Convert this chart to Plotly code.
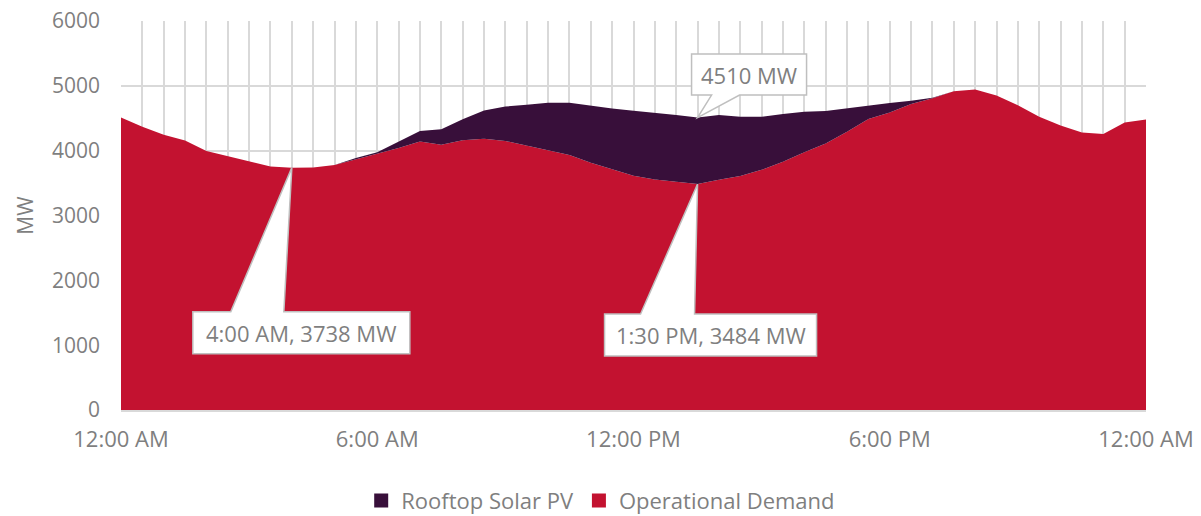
import pandas as pd
import plotly.graph_objects as go

# half-hourly intervals, midnight to midnight
times = pd.date_range("2019-01-01 00:00", "2019-01-02 00:00", freq="30min")

operational_demand = [
    4510, 4370, 4245, 4155, 3995, 3915, 3830, 3755, 3738, 3740,
    3780, 3865, 3945, 4040, 4140, 4090, 4160, 4185, 4150, 4080,
    4010, 3935, 3815, 3710, 3615, 3555, 3515, 3484, 3550, 3610,
    3705, 3830, 3975, 4110, 4290, 4490, 4590, 4720, 4810, 4915,
    4945, 4850, 4700, 4523, 4390, 4280, 4257, 4435, 4480,
]
rooftop_solar = [
    0, 0, 0, 0, 0, 0, 0, 0, 0, 0,
    0, 20, 30, 100, 165, 240, 325, 435, 530, 630,
    728, 803, 877, 940, 1000, 1030, 1034, 1026, 999, 913,
    818, 735, 625, 501, 362, 213, 145, 50, 5, 0,
    0, 0, 0, 0, 0, 0, 0, 0, 0,
]

RED = "#C31230"
PURPLE = "#380F3A"
GRID = "#D9D9D9"
TEXT = "#7F7F7F"
FONT = "Open Sans"

fig = go.Figure()
fig.add_trace(go.Scatter(x=times, y=operational_demand, name="Operational Demand",
                         stackgroup="one", mode="lines", line=dict(width=0, color=RED),
                         fillcolor=RED, showlegend=False))
fig.add_trace(go.Scatter(x=times, y=rooftop_solar, name="Rooftop Solar PV",
                         stackgroup="one", mode="lines", line=dict(width=0, color=PURPLE),
                         fillcolor=PURPLE, showlegend=False))

# legend entries with square swatches
for name, color in [("Rooftop Solar PV", PURPLE), ("Operational Demand", RED)]:
    fig.add_trace(go.Scatter(x=[None], y=[None], mode="markers", name=name,
                             marker=dict(symbol="square", size=14, color=color)))

# callouts: (x, y, text, polygon relative to the point in px, text offset)
i_min = operational_demand.index(min(operational_demand[:20]))
i_mid = operational_demand.index(min(operational_demand[20:40]))
total = [d + s for d, s in zip(operational_demand, rooftop_solar)]


def label(i, v):
    return f"{times[i].strftime('%-I:%M %p')}, {v} MW"


callouts = [
    (times[i_min], operational_demand[i_min], label(i_min, operational_demand[i_min]),
     [(0, 0), (-8, -144), (118, -144), (118, -186), (-99, -186), (-99, -144), (-61, -144)],
     (9.5, -165)),
    (times[i_mid], operational_demand[i_mid], label(i_mid, operational_demand[i_mid]),
     [(0, 0), (-3, -130), (119, -130), (119, -172), (-93, -172), (-93, -130), (-57, -130)],
     (13, -151)),
    (times[i_mid], total[i_mid], f"{total[i_mid]} MW",
     [(0, 0), (42, 22.5), (109, 22.5), (109, 63.5), (-6, 63.5), (-6, 22.5), (14, 22.5)],
     (51.5, 43)),
]

for x, y, text, poly, (dx, dy) in callouts:
    path = "M " + " L ".join(f"{px},{py}" for px, py in poly) + " Z"
    fig.add_shape(type="path", path=path, xref="x", yref="y",
                  xsizemode="pixel", ysizemode="pixel", xanchor=x, yanchor=y,
                  fillcolor="white", line=dict(color="#BFBFBF", width=1.5), layer="above")
    fig.add_annotation(x=x, y=y, text=text, showarrow=False, xshift=dx, yshift=dy,
                       font=dict(family=FONT, size=22, color=TEXT))

# the page body adds 8px, so margins are trimmed to keep the plot at 121..1146 x 21..410
fig.update_layout(
    width=1201, height=516,
    margin=dict(l=113, r=63, t=13, b=114),
    plot_bgcolor="white", paper_bgcolor="white",
    font=dict(family=FONT, size=22, color=TEXT),
    showlegend=True,
    legend=dict(orientation="h", x=0.468, xanchor="center",
                yref="container", y=0.045, yanchor="middle",
                traceorder="normal", font=dict(size=22, color=TEXT), itemwidth=30),
    hovermode=False,
)
fig.update_xaxes(
    range=[times[0], times[-1]], automargin=False,
    dtick=6 * 3600 * 1000, tickformat="%-I:%M %p", ticks="", ticklabelstandoff=9,
    ticklabeloverflow="allow",
    showgrid=True, gridcolor=GRID, gridwidth=2,
    minor=dict(dtick=30 * 60 * 1000, showgrid=True, gridcolor=GRID, gridwidth=2),
    showline=True, linecolor=GRID, linewidth=2,
    tickfont=dict(size=22, color=TEXT),
)
fig.update_yaxes(
    range=[0, 6000], dtick=1000, showgrid=True, gridcolor=GRID, gridwidth=2,
    zeroline=False, ticks="", ticklabelstandoff=20, automargin=False,
    ticklabeloverflow="allow",
    title=dict(text="MW", font=dict(size=21, color=TEXT), standoff=12),
    tickfont=dict(size=21, color=TEXT),
)

fig.write_html("out.html")
